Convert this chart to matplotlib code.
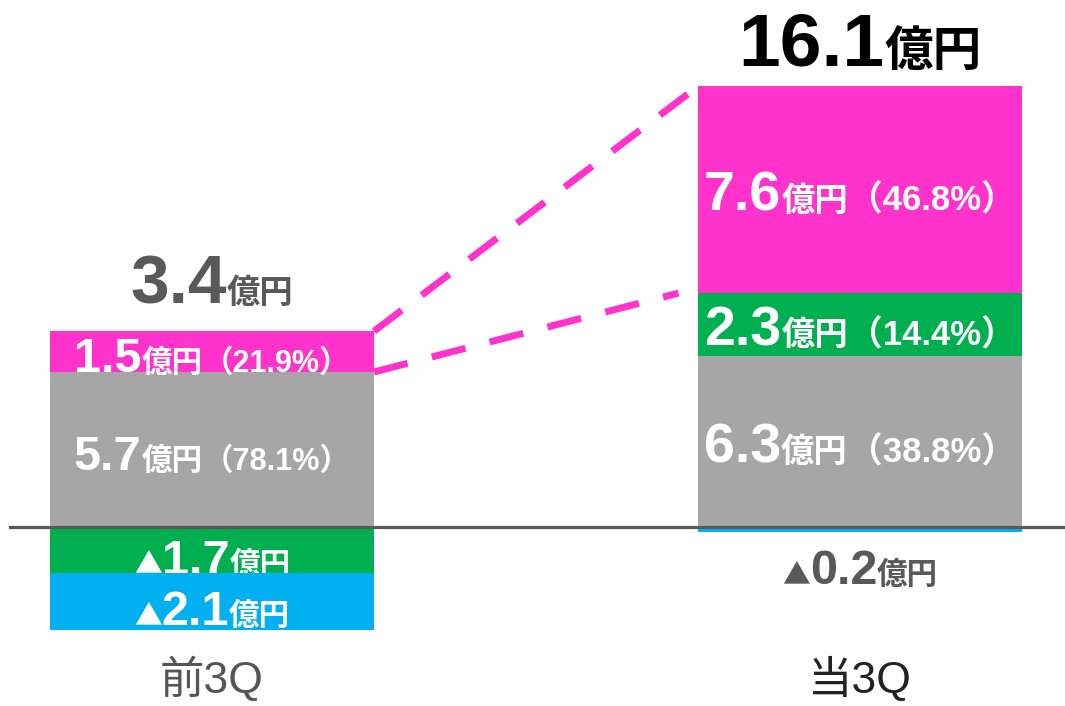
import matplotlib
matplotlib.use("Agg")
import matplotlib.pyplot as plt
import matplotlib.transforms as mtransforms

# データ（億円）
categories = ["前3Q", "当3Q"]
gray_vals = [5.7, 6.3]
green_vals = [-1.7, 2.3]
pink_vals = [1.5, 7.6]
blue_vals = [-2.1, -0.2]
totals = [3.4, 16.1]
gray_pct = [78.1, 38.8]
green_pct = [None, 14.4]
pink_pct = [21.9, 46.8]

GRAY = "#A6A6A6"
GREEN = "#00B050"
PINK = "#FF33CC"
BLUE = "#00B0F0"
DARK = "#595959"

NUM = "Liberation Sans"
JP = "Noto Sans CJK JP"
MIX = ["Liberation Sans", "Noto Sans CJK JP"]

DPI = 100
fig = plt.figure(figsize=(10.65, 7.06), dpi=DPI)
ax = fig.add_axes([0, 0, 1, 1])
ax.axis("off")

# 画面上の配置（px）: 棒の中心 212 / 860、幅 324、ゼロ線 y=527
px_x = 648.0
px_y = 27.2
ax.set_xlim(-212 / px_x, (1065 - 212) / px_x)
ax.set_ylim(-(706 - 527) / px_y, 527 / px_y)

xs = [0, 1]
width = 324 / px_x

renderer = fig.canvas.get_renderer()


def rich_label(x, y, parts, dy=0, zorder=6, weight="bold"):
    # parts: (文字列, サイズ, フォント, 色) を横に並べて中央揃え
    texts, widths = [], []
    for s, size, fam, color in parts:
        t = ax.text(x, y, s, fontsize=size, family=fam, weight=weight,
                    color=color, ha="left", va="baseline", zorder=zorder)
        texts.append(t)
        widths.append(t.get_window_extent(renderer).width)
    off = -sum(widths) / 2
    for t, w in zip(texts, widths):
        t.set_transform(mtransforms.offset_copy(
            ax.transData, fig=fig, x=off * 72 / DPI, y=dy, units="points"))
        off += w


# 積み上げ（正は上へ、負は下へ）
series = [(gray_vals, GRAY, gray_pct), (green_vals, GREEN, green_pct),
          (pink_vals, PINK, pink_pct), (blue_vals, BLUE, [None, None])]
num_size = [35, 40]
yen_size = [22, 24]
pct_size = [22, 25]

pos_base = [0.0, 0.0]
neg_base = [0.0, 0.0]
segs = []
z = 1
for vals, color, pcts in series:
    for i, v in enumerate(vals):
        if v >= 0:
            bottom = pos_base[i]
            pos_base[i] += v
        else:
            bottom = neg_base[i]
            neg_base[i] += v
        ax.bar(xs[i], v, width, bottom=bottom, color=color, zorder=z)
        segs.append((i, v, bottom, pcts[i], z))
    z += 2

# ラベル（次の系列の棒の下に描く）
for i, v, bottom, pct, zz in segs:
    mid = bottom + v / 2
    if v >= 0:
        parts = [(f"{v:.1f}", num_size[i], NUM, "white"),
                 ("億円", yen_size[i], JP, "white")]
        if pct is not None:
            parts.append((f"（{pct:.1f}%）", pct_size[i], MIX, "white"))
        rich_label(xs[i], mid, parts, dy=-15, zorder=zz + 1)
    elif abs(v) * px_y > 30:
        parts = [("▲", 20, JP, "white"),
                 (f"{abs(v):.1f}", 35, NUM, "white"),
                 ("億円", 22, JP, "white")]
        rich_label(xs[i], mid, parts, dy=-17, zorder=zz + 1)
    else:
        parts = [("▲", 20, JP, DARK),
                 (f"{abs(v):.1f}", 35, NUM, DARK),
                 ("億円", 22, JP, DARK)]
        rich_label(xs[i], bottom + v, parts, dy=-37, zorder=zz + 1)

# ゼロ線
ax.axhline(0, xmin=10 / 1065, xmax=1, color=DARK, lw=2.3, zorder=20)

# 合計
tot_num = [50, 54]
tot_yen = [24, 35]
tot_col = [DARK, "black"]
tot_pad = [20, 15]
for i, t in enumerate(totals):
    rich_label(xs[i], pos_base[i],
               [(f"{t:.1f}", tot_num[i], NUM, tot_col[i]),
                ("億円", tot_yen[i], JP, tot_col[i])], dy=tot_pad[i])

# 破線（前3Qの上端 → 当3Qの上端）
left_edge = xs[0] + width / 2
right_edge = xs[1] - width / 2
ax.plot([left_edge, right_edge], [gray_vals[0] + pink_vals[0], pos_base[1]],
        color=PINK, lw=5, dashes=(5, 3.6), zorder=0)
ax.plot([left_edge, right_edge - 0.03], [gray_vals[0], gray_vals[1] + green_vals[1]],
        color=PINK, lw=5, dashes=(5, 3.6), zorder=0)

# カテゴリ名
cat_col = ["#555555", "#222222"]
trans = mtransforms.blended_transform_factory(ax.transData, ax.transAxes)
for i, c in enumerate(categories):
    ax.text(xs[i], 13 / 706, c, fontsize=32, family=MIX, color=cat_col[i],
            ha="center", va="baseline", transform=trans)

fig.savefig("out.png", dpi=DPI)
